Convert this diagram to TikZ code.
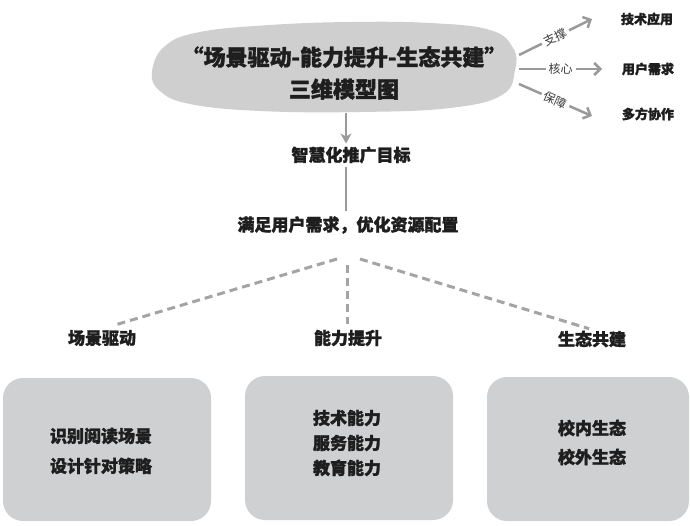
\documentclass[tikz,border=0pt]{standalone}
\usepackage{fontspec}
\newfontfamily\cjk{Noto Sans CJK SC}
\newfontfamily\cjkheavy{Noto Sans CJK SC}[BoldFeatures={FakeBold=1.6}]
\usetikzlibrary{arrows.meta,calc}
\definecolor{blobgray}{HTML}{CFCFCF}
\definecolor{boxgray}{HTML}{CFD0D2}
\definecolor{linegray}{HTML}{9A9A9A}
\definecolor{dashgray}{HTML}{A4A4A4}
\definecolor{ink}{HTML}{1E1E1E}
\definecolor{lbl}{HTML}{3A3A3A}
\begin{document}
\begin{tikzpicture}[x=1pt,y=-1pt,
  every node/.style={text=ink, inner sep=1pt},
  titletext/.style={font=\cjkheavy\bfseries\fontsize{22}{32}\selectfont, align=center},
  sidelabel/.style={font=\cjkheavy\bfseries\fontsize{13}{13}\selectfont},
  arrowlabel/.style={font=\cjk\fontsize{12}{12}\selectfont, text=lbl, fill=white, sloped, inner sep=3pt},
  midtext/.style={font=\cjkheavy\bfseries\fontsize{17}{17}\selectfont},
  pillar/.style={font=\cjkheavy\bfseries\fontsize{17}{17}\selectfont},
  boxtext/.style={font=\cjkheavy\bfseries\fontsize{17}{#1}\selectfont, align=center},
  panel/.style={fill=boxgray, rounded corners=20pt, draw=none, inner sep=0pt},
  garrow/.style={draw=linegray, line width=2.5pt, -{Straight Barb[length=6pt,width=12pt]}},
  downarrow/.style={draw=linegray, line width=2.5pt, -{Stealth[length=10pt,width=11pt,inset=3pt]}},
  gline/.style={draw=linegray, line width=2.5pt},
  dashline/.style={draw=dashgray, line width=3pt, dash pattern=on 8pt off 5pt}
]
\useasboundingbox (0,0) rectangle (690,525);
\fill[white] (0,0) rectangle (690,525);

% blob
\path[fill=blobgray] plot[smooth cycle, tension=0.7] coordinates {(152,72) (165,46) (200,32) (270,25) (350,22) (430,23) (490,30) (513,48) (515,70) (502,95) (450,108) (360,112) (260,111) (190,104) (160,91)};
\node[titletext] (title) at (344,73) {“场景驱动-能力提升-生态共建”\\三维模型图};

% right branch
\coordinate (s1) at (519,55);
\coordinate (s2) at (519,69);
\coordinate (s3) at (519,84);
\coordinate (t1) at (592,19);
\coordinate (t2) at (602,69);
\coordinate (t3) at (592,116);
\node[sidelabel] (tech) at (647,19) {技术应用};
\node[sidelabel] (user) at (648,69) {用户需求};
\node[sidelabel] (multi) at (648,114) {多方协作};
\draw[garrow] (s1) -- node[arrowlabel]{支撑} (t1);
\draw[garrow] (s2) -- node[arrowlabel]{核心} (t2);
\draw[garrow] (s3) -- node[arrowlabel]{保障} (t3);

% middle chain
\coordinate (stem) at (346,113);
\node[midtext] (goal) at (351,155) {智慧化推广目标};
\node[midtext] (need) at (348,225) {满足用户需求，优化资源配置};
\draw[downarrow, shorten >=2pt] (stem) -- (stem |- goal.north);
\draw[gline, shorten <=3pt, shorten >=4pt] (goal.south -| stem) -- (need.north -| stem);

% dashed branches
\coordinate (h1) at (337,259);
\coordinate (h2) at (347,265);
\coordinate (h3) at (360,259);
\node[pillar] (scene) at (102,338) {场景驱动};
\node[pillar] (ability) at (348,338) {能力提升};
\node[pillar] (eco) at (592,339) {生态共建};
\draw[dashline, shorten >=12pt] (h1) -- (scene.north);
\draw[dashline, shorten >=5pt] (h2) -- (h2 |- ability.north);
\draw[dashline, shorten >=3pt] (h3) -- (eco.north);

% panels
\node[panel, minimum width=208pt, minimum height=143pt] (p1) at (107,449.5) {};
\node[panel, minimum width=208pt, minimum height=144pt] (p2) at (349,448) {};
\node[panel, minimum width=202pt, minimum height=144pt] (p3) at (588,449) {};
\node[boxtext=30] (p1t) at (101,451) {识别阅读场景\\设计针对策略};
\node[boxtext=25] (p2t) at (347,443) {技术能力\\服务能力\\教育能力};
\node[boxtext=29] (p3t) at (592,442.5) {校内生态\\校外生态};
\end{tikzpicture}
\end{document}
